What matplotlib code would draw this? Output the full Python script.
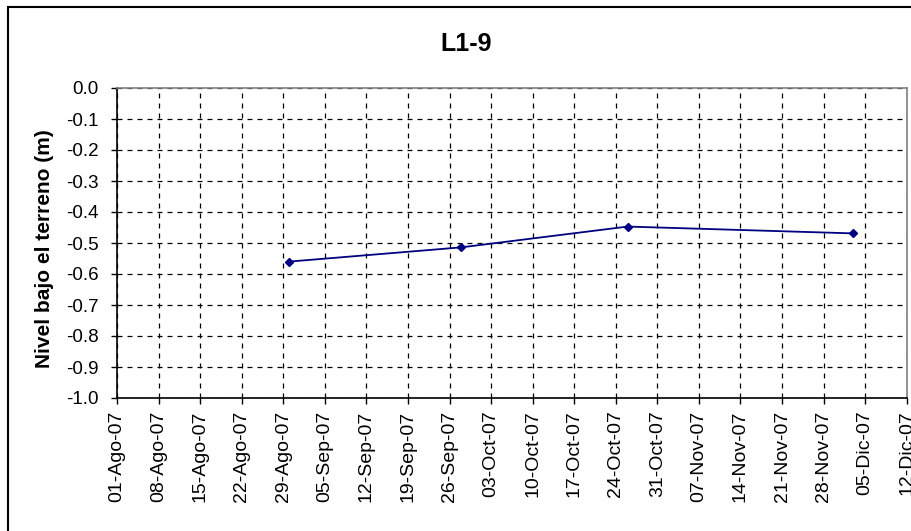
import matplotlib
matplotlib.use('Agg')
import matplotlib.pyplot as plt
import matplotlib.dates as mdates
from matplotlib.patches import Rectangle
from datetime import datetime, timedelta

plt.rcParams['font.family'] = ['Liberation Sans', 'DejaVu Sans']

# datos de la lectura
fechas = [datetime(2007, 8, 30), datetime(2007, 9, 28), datetime(2007, 10, 26), datetime(2007, 12, 3)]
nivel = [-0.56, -0.514, -0.447, -0.469]

titulo = 'L1-9'
etiqueta_y = 'Nivel bajo el terreno (m)'
meses = {1: 'Ene', 2: 'Feb', 3: 'Mar', 4: 'Abr', 5: 'May', 6: 'Jun',
         7: 'Jul', 8: 'Ago', 9: 'Sep', 10: 'Oct', 11: 'Nov', 12: 'Dic'}

fecha_ini = datetime(2007, 8, 1)
fecha_fin = datetime(2007, 12, 12)
ticks_x = [fecha_ini + timedelta(days=7 * i) for i in range(20)]
ticks_y = [round(-1.0 + 0.1 * i, 1) for i in range(11)]

fig = plt.figure(figsize=(9.11, 5.31), dpi=100)
ax = fig.add_axes([117 / 911, 1 - 398 / 531, (906.7 - 117) / 911, (398 - 88) / 531])

ax.plot(fechas, nivel, color='#000080', linewidth=1.3, marker='D', markersize=4.5,
        markerfacecolor='#000080', markeredgecolor='#000080', zorder=3)

ax.set_xlim(fecha_ini, fecha_fin)
ax.set_ylim(-1.0, 0.0)
ax.set_xticks(ticks_x)
ax.xaxis.set_major_formatter(plt.FuncFormatter(
    lambda v, pos: (lambda d: f"{d.day:02d}-{meses[d.month]}-{d.strftime('%y')}")(mdates.num2date(v))))
ax.set_yticks(ticks_y)
ax.set_yticklabels([f'{v:.1f}' for v in ticks_y])

ax.grid(True, color='black', linestyle=(0, (4, 4)), linewidth=0.9)
ax.set_axisbelow(True)

ax.tick_params(axis='x', labelrotation=90, labelsize=14, direction='out', length=4, width=1, pad=5)
ax.tick_params(axis='y', labelsize=13.5, direction='out', length=4, width=1, pad=9)

for s in ['left', 'bottom']:
    ax.spines[s].set_color('black')
    ax.spines[s].set_linewidth(1.2)
for s in ['top', 'right']:
    ax.spines[s].set_color('#808080')
    ax.spines[s].set_linewidth(1.2)

fig.text(466 / 911, 1 - 44 / 531, titulo, ha='center', va='center', fontsize=18, fontweight='bold')
fig.text(45 / 911, 1 - 249 / 531, etiqueta_y, ha='center', va='center', rotation=90,
         fontsize=15, fontweight='bold')

# borde del área del gráfico
fig.patches.append(Rectangle((8 / 911, -0.1), 1.2, 1 - 7 / 531 + 0.1, transform=fig.transFigure,
                             fill=False, edgecolor='black', linewidth=1.5))

fig.savefig('out.png', dpi=100)
